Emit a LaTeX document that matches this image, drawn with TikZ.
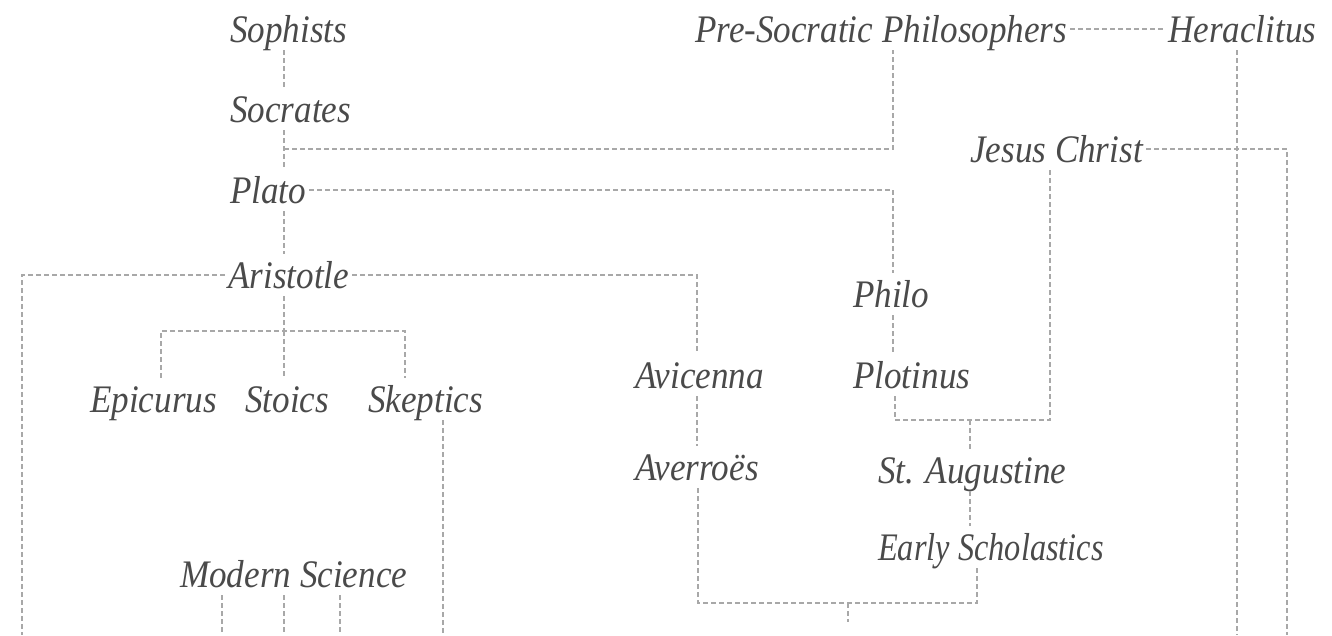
\documentclass[tikz,border=0pt]{standalone}
\usepackage{fontspec}
\newfontfamily\labfont{Liberation Serif}[FakeStretch=0.9]
\newfontfamily\labfontn{Liberation Serif}[FakeStretch=0.83]
\usetikzlibrary{calc}
\definecolor{txtgray}{HTML}{4A4A4A}
\definecolor{lngray}{HTML}{A8A8A8}
\begin{document}
\begin{tikzpicture}[x=1pt,y=-1pt,
  lab/.style={anchor=base west, inner xsep=3pt, inner ysep=0pt,
    text height=34pt, text depth=8pt, text=txtgray,
    font=\labfont\itshape\fontsize{39}{45}\selectfont},
  labn/.style={lab, font=\labfontn\itshape\fontsize{39}{45}\selectfont},
  conn/.style={draw=lngray, line width=1.4pt, dash pattern=on 5pt off 3pt}]
\useasboundingbox (0,0) rectangle (1332,635);
% nodes
\node[lab] (soph)   at (227,42)  {Sophists};
\node[lab] (socr)   at (227,122) {Socrates};
\node[lab] (plato)  at (227,203) {Plato};
\node[lab] (arist)  at (225,288) {Aristotle};
\node[lab] (epic)   at (87,412)  {Epicurus};
\node[lab] (stoic)  at (242,412) {Stoics};
\node[lab] (skep)   at (365,412) {Skeptics};
\node[lab] (modsci) at (177,587) {Modern Science};
\node[lab] (presoc) at (692,42)  {Pre-Socratic Philosophers};
\node[lab] (herac)  at (1165,42) {Heraclitus};
\node[lab] (jesus)  at (967,162) {Jesus Christ};
\node[lab] (philo)  at (850,307) {Philo};
\node[lab] (avic)   at (632,388) {Avicenna};
\node[lab] (plot)   at (850,388) {Plotinus};
\node[lab] (aver)   at (632,480) {Averroës};
\node[lab] (aug)    at (875,483) {St. Augustine};
\node[labn] (early) at (875,560) {Early Scholastics};
% column / junction coordinates
\coordinate (cA) at (284,0);
\coordinate (cPS) at (893,0);
\coordinate (cAv) at (697,0);
\coordinate (cJ) at (1050,0);
\coordinate (cAu) at (970,0);
\coordinate (cEs) at (977,0);
\coordinate (cEp) at (161,0);
\coordinate (cSk) at (405,0);
\coordinate (jSoc) at (284,149);
\coordinate (jAri) at (284,331);
\coordinate (jPlo) at (895,420);
\coordinate (jAug) at (970,420);
\coordinate (jAve) at (698,603);
\coordinate (jMid) at (848,603);
\coordinate (stub) at (848,622);
\coordinate (bAri) at (22,635);
\coordinate (bSke) at (443,635);
\coordinate (bM1) at (222,635);
\coordinate (bM2) at (284,635);
\coordinate (bM3) at (340,635);
\coordinate (bHer) at (1237,635);
\coordinate (bJes) at (1287,635);
% connectors
\draw[conn] (soph.south -| cA) -- (socr.north -| cA);
\draw[conn] (socr.south -| cA) -- (plato.north -| cA);
\draw[conn] (jSoc) -| (presoc.south -| cPS);
\draw[conn] (plato.east) -| (philo.north -| cPS);
\draw[conn] (plato.south -| cA) -- (arist.north -| cA);
\draw[conn] (arist.west) -| (bAri);
\draw[conn] (arist.east) -| (avic.north -| cAv);
\draw[conn] (arist.south -| cA) -- (jAri);
\draw[conn] (epic.north -| cEp) |- (jAri) -| (skep.north -| cSk);
\draw[conn] (jAri) -- (stoic.north -| cA);
\draw[conn] (skep.south -| bSke) -- (bSke);
\draw[conn] (modsci.south -| bM1) -- (bM1);
\draw[conn] (modsci.south -| bM2) -- (bM2);
\draw[conn] (modsci.south -| bM3) -- (bM3);
\draw[conn] (avic.south -| cAv) -- (aver.north -| cAv);
\draw[conn] (aver.south -| jAve) -- (jAve) -| (early.south -| cEs);
\draw[conn] (jMid) -- (stub);
\draw[conn] (philo.south -| cPS) -- (plot.north -| cPS);
\draw[conn] (plot.south -| jPlo) -- (jPlo) -| (jesus.south -| cJ);
\draw[conn] (jAug) -- (aug.north -| cAu);
\draw[conn] (aug.south -| cAu) -- (early.north -| cAu);
\draw[conn] (jesus.east) -| (bJes);
\draw[conn] (presoc.east) -- (herac.west);
\draw[conn] (herac.south -| bHer) -- (bHer);
\end{tikzpicture}
\end{document}
